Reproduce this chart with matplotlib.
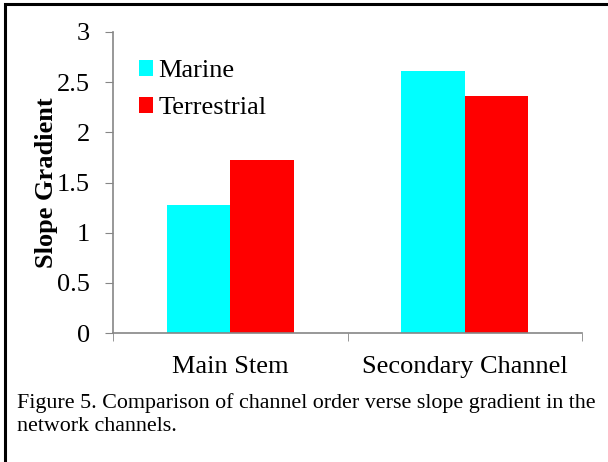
import matplotlib.pyplot as plt
import numpy as np
from matplotlib.patches import Rectangle

categories = ["Main Stem", "Secondary Channel"]
marine = [1.28, 2.61]
terrestrial = [1.72, 2.36]
series_names = ["Marine", "Terrestrial"]
caption = ("Figure 5. Comparison of channel order verse slope gradient in the\n"
           "network channels.")

plt.rcParams["font.family"] = ["Liberation Serif", "DejaVu Serif"]

W, H = 608, 462
fig = plt.figure(figsize=(W / 100, H / 100), dpi=100)
ax = fig.add_axes([113 / W, 1 - 333 / H, (582 - 113) / W, (333 - 32) / H])

x = np.arange(len(categories))
bw = 0.27
ax.bar(x - bw / 2, marine, bw, color="#00ffff", label=series_names[0])
ax.bar(x + bw / 2, terrestrial, bw, color="#ff0000", label=series_names[1])

ax.set_xlim(-0.5, len(categories) - 0.5)
ax.set_ylim(0, 3)
ax.set_yticks(np.arange(0, 3.01, 0.5))
ax.set_yticklabels(["0", "0.5", "1", "1.5", "2", "2.5", "3"])
ax.set_xticks(x)
ax.set_xticklabels(categories)
ax.set_xticks(np.arange(-0.5, len(categories), 1), minor=True)
ax.tick_params(axis="x", which="major", length=0, pad=16.5, labelsize=19)
ax.tick_params(axis="x", which="minor", length=5.5, color="#868686", direction="out")
ax.tick_params(axis="y", length=5.5, color="#868686", labelsize=19, pad=11)

for s in ["top", "right"]:
    ax.spines[s].set_visible(False)
for s in ["left", "bottom"]:
    ax.spines[s].set_color("#868686")
    ax.spines[s].set_linewidth(1.2)

ax.set_ylabel("Slope Gradient", fontsize=19, fontweight="bold", labelpad=-1)

ax.legend(loc="upper left", bbox_to_anchor=(139 / W, 1 - 60 / H),
          bbox_transform=fig.transFigure, frameon=False, fontsize=19,
          handlelength=0.53, handleheight=0.53, handletextpad=0.2,
          labelspacing=0.57, borderaxespad=0, borderpad=0)

fig.text(17 / W, 1 - 393 / H, caption, fontsize=15.8, va="top", ha="left",
         linespacing=1.32)

# outer frame around figure
fig.patches.append(Rectangle((5 / W, -0.1), 1.2, 1 - 4 / H + 0.1,
                             transform=fig.transFigure, fill=False,
                             edgecolor="black", linewidth=2.2, clip_on=False))

fig.savefig("out.png", dpi=100)
